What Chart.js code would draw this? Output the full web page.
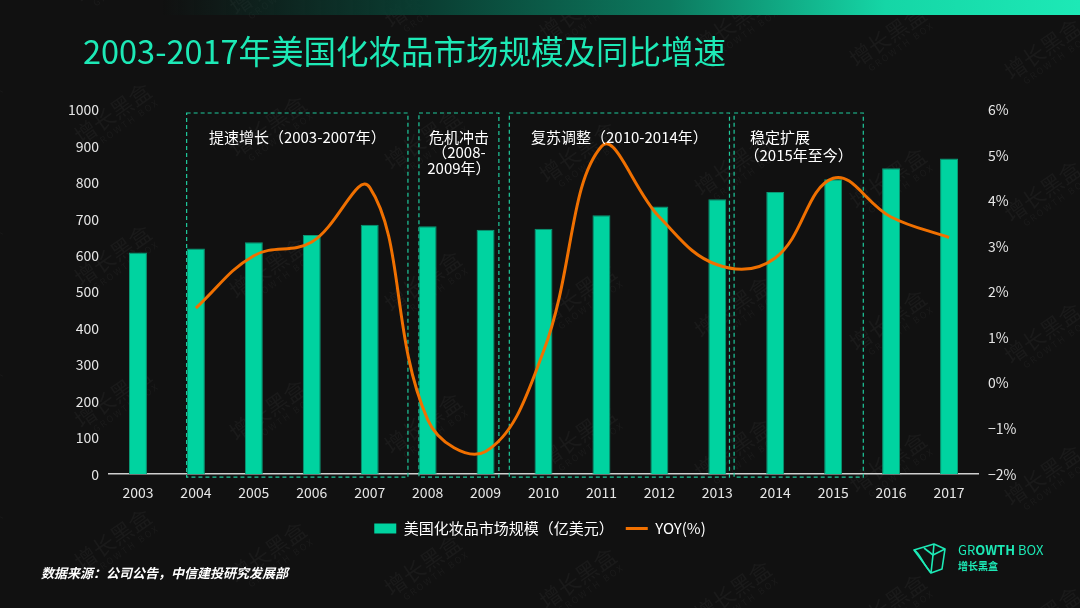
<!DOCTYPE html>
<html>
<head>
<meta charset="utf-8">
<script src="https://cdn.jsdelivr.net/npm/chart.js@4.4.1/dist/chart.umd.min.js"></script>
<style>
  html, body { margin: 0; padding: 0; background: #111111; }
  #wrap { position: relative; width: 1080px; height: 608px; overflow: hidden; background: #111111;
    font-family: "Noto Sans CJK SC", "Noto Sans", sans-serif; }
  #topbar { position: absolute; left: 0; top: 0; width: 1080px; height: 15px;
    background: linear-gradient(90deg, rgba(17,17,17,0) 15%, #0a3f33 40%, #0c7a5f 62%, #15d6a6 82%, #1de9b6 100%); z-index: 2; }
  #title { position: absolute; left: 83px; top: 32px; font-size: 32.5px; line-height: 36px; color: #1de9b6; z-index: 2; white-space: nowrap; }
  #chart { position: absolute; left: 0; top: 0; z-index: 1; }
  #source { position: absolute; left: 41px; top: 563px; font-size: 13px; font-weight: bold; font-style: italic; color: #ffffff; z-index: 2; }
  #logo { position: absolute; left: 912px; top: 541px; z-index: 2; color: #1de9b6; }
  #logo svg { position: absolute; left: 0; top: 0; }
  #logo .en { position: absolute; left: 46px; top: 1px; font-size: 13px; line-height: 16px; white-space: nowrap; }
  #logo .cn { position: absolute; left: 46px; top: 19px; font-size: 10px; line-height: 12px; font-weight: bold; white-space: nowrap; }
</style>
</head>
<body>
<div id="wrap">
  <div id="topbar"></div>
  <div id="title">2003-2017年美国化妆品市场规模及同比增速</div>
  <canvas id="chart" width="1080" height="608"></canvas>
  <div id="source">数据来源：公司公告，中信建投研究发展部</div>
  <div id="logo">
    <svg width="36" height="34" viewBox="0 0 36 34" fill="none" stroke="#1de9b6" stroke-width="1.6" stroke-linejoin="round">
      <path d="M2 9 L22 3 L33 8 L30 28 L19 32 Z"/>
      <path d="M2 9 C8 12 10 22 19 32"/>
      <path d="M22 3 L21 14 L33 8"/>
      <path d="M21 14 L19 32"/>
      <path d="M12 7 L21 14"/>
    </svg>
    <div class="en">GR<b>OWTH</b> BOX</div>
    <div class="cn">增长黑盒</div>
  </div>
</div>
<script>
// chart data
const years = ["2003", "2004", "2005", "2006", "2007", "2008", "2009", "2010",
  "2011", "2012", "2013", "2014", "2015", "2016", "2017"];
const marketSize = [609, 620, 637, 657, 685, 681, 671, 674, 711, 735, 755, 775, 810, 840, 867];
const yoyGrowth = [null, 1.65, 2.8, 3.1, 4.3, -0.8, -1.5, 0.7, 5.2, 3.65, 2.6, 2.75, 4.5, 3.65, 3.2];
const stageLabels = [
  ["提速增长（2003-2007年）"],
  ["危机冲击", "（2008-", "2009年）"],
  ["复苏调整（2010-2014年）"],
  ["稳定扩展", "（2015年至今）"]
];

const GREEN = "#00d3a0";
const ORANGE = "#f07000";
const FONT = '"Noto Sans CJK SC", "Noto Sans", sans-serif';

// faint tiled watermark behind everything
const watermark = {
  id: "watermark",
  beforeDraw(chart) {
    const ctx = chart.ctx;
    ctx.save();
    ctx.fillStyle = "rgba(255,255,255,0.04)";
    for (let k = -1; k < 8; k++) {
      for (let j = -1; j < 5; j++) {
        const x = 93 + 155 * k;
        const y = 127 + 142 * j + 13 * k;
        ctx.save();
        ctx.translate(x, y);
        ctx.rotate(-35 * Math.PI / 180);
        ctx.font = "22px " + FONT;
        ctx.fillText("增长黑盒", -20, 0);
        ctx.font = "9px " + FONT;
        ctx.fillText("G R O W T H   B O X", -10, 16);
        ctx.restore();
      }
    }
    ctx.restore();
  }
};

// dashed stage boxes + their captions
const stageBoxes = [[0.84, 4.66], [4.85, 6.23], [6.41, 10.21], [10.29, 12.52]];
const stageFrames = {
  id: "stageFrames",
  beforeDatasetsDraw(chart) {
    const { ctx, chartArea, scales } = chart;
    ctx.save();
    ctx.strokeStyle = "#1fc99c";
    ctx.lineWidth = 1.2;
    ctx.setLineDash([4, 3]);
    stageBoxes.forEach(([a, b]) => {
      const x1 = scales.x.getPixelForValue(a);
      const x2 = scales.x.getPixelForValue(b);
      ctx.strokeRect(x1, chartArea.top + 3, x2 - x1, chartArea.bottom - chartArea.top);
    });
    ctx.restore();
  },
  afterDatasetsDraw(chart) {
    const { ctx, chartArea, scales } = chart;
    ctx.save();
    ctx.fillStyle = "#ffffff";
    ctx.font = "15px " + FONT;
    ctx.textBaseline = "middle";
    stageLabels.forEach((lines, i) => {
      const [a, b] = stageBoxes[i];
      const x1 = scales.x.getPixelForValue(a);
      const x2 = scales.x.getPixelForValue(b);
      const step = i === 3 ? 18 : 15.5;
      lines.forEach((txt, n) => {
        const y = chartArea.top + 27 + n * step;
        if (i === 3 && n === 0) {
          ctx.textAlign = "left";
          ctx.fillText(txt, x1 + 16, y);
        } else {
          ctx.textAlign = "center";
          ctx.fillText(txt, (x1 + x2) / 2, y);
        }
      });
    });
    ctx.restore();
  }
};

const ctx = document.getElementById("chart").getContext("2d");
const chart = new Chart(ctx, {
  type: "bar",
  data: {
    labels: years,
    datasets: [
      {
        type: "bar",
        label: "美国化妆品市场规模（亿美元）",
        data: marketSize,
        backgroundColor: GREEN,
        borderColor: "#0b9774",
        borderWidth: 1,
        barPercentage: 0.31,
        categoryPercentage: 1.0,
        yAxisID: "y",
        order: 2
      },
      {
        type: "line",
        label: "YOY(%)",
        data: yoyGrowth,
        borderColor: ORANGE,
        backgroundColor: ORANGE,
        borderWidth: 3,
        pointRadius: 0,
        tension: 0.4,
        yAxisID: "y1",
        order: 1
      }
    ]
  },
  options: {
    responsive: false,
    animation: false,
    layout: { padding: { top: 110, left: 0, right: 0, bottom: 62 } },
    plugins: {
      tooltip: { enabled: false },
      legend: {
        position: "bottom",
        labels: {
          color: "#ffffff",
          font: { family: FONT, size: 15 },
          usePointStyle: true,
          pointStyleWidth: 22,
          boxHeight: 10,
          padding: 12,
          sort: (a, b) => a.datasetIndex - b.datasetIndex,
          generateLabels(chart) {
            const items = Chart.defaults.plugins.legend.labels.generateLabels(chart);
            items.forEach(it => {
              if (it.datasetIndex === 0) {
                it.pointStyle = "rect";
                it.lineWidth = 0;
              } else {
                it.pointStyle = "line";
                it.strokeStyle = ORANGE;
                it.lineWidth = 3;
              }
            });
            return items;
          }
        }
      }
    },
    scales: {
      x: {
        grid: { display: false, drawTicks: false },
        border: { color: "#cfcfcf", width: 1.5 },
        ticks: { color: "#e6e6e6", font: { family: FONT, size: 14 }, padding: 10 },
        afterFit(scale) { scale.height -= 2; }
      },
      y: {
        position: "left",
        min: 0,
        max: 1000,
        grid: { display: false, drawTicks: false },
        border: { display: false },
        ticks: {
          stepSize: 100,
          color: "#e6e6e6",
          font: { family: FONT, size: 14 },
          padding: 10,
          callback: v => String(v)
        },
        afterFit(scale) { scale.width = 109; }
      },
      y1: {
        position: "right",
        min: -2,
        max: 6,
        grid: { display: false, drawTicks: false },
        border: { display: false },
        ticks: {
          stepSize: 1,
          color: "#e6e6e6",
          font: { family: FONT, size: 14 },
          padding: 10,
          callback: v => (v < 0 ? "−" + Math.abs(v) : v) + "%"
        },
        afterFit(scale) { scale.width = 102; }
      }
    }
  },
  plugins: [watermark, stageFrames]
});
</script>
</body>
</html>
